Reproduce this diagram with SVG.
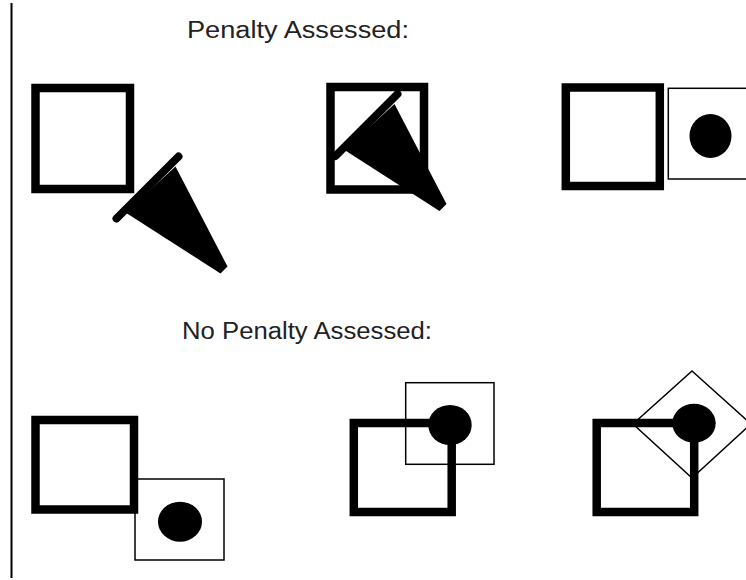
<svg xmlns="http://www.w3.org/2000/svg" width="746" height="580" viewBox="0 0 746 580">
<style>
.thick{fill:none;stroke:#000;stroke-width:8.5}
.thin{fill:none;stroke:#000;stroke-width:1.5}
.dot{fill:#000}
.lbl{font-family:"Liberation Sans",Arial,sans-serif;fill:#222}
</style>
<defs>
<g id="cone">
<line x1="-31" y1="31" x2="31" y2="-31" stroke="#000" stroke-width="8" stroke-linecap="round"/>
<polygon points="-22,25 28,-21 80,79 73,86" fill="#000"/>
</g>
</defs>
<rect width="746" height="580" fill="#fff"/>
<line x1="11.5" y1="3" x2="11.5" y2="578" stroke="#000" stroke-width="2"/>
<text class="lbl" x="187" y="38" font-size="23" textLength="222" lengthAdjust="spacingAndGlyphs">Penalty Assessed:</text>
<text class="lbl" x="182" y="339" font-size="23" textLength="250" lengthAdjust="spacingAndGlyphs">No Penalty Assessed:</text>
<g id="penalty1">
<rect class="thick" x="35.5" y="88" width="94.5" height="101"/>
<use href="#cone" transform="translate(147.5,187.5)"/>
</g>
<g id="penalty2">
<rect class="thick" x="330.5" y="87" width="93.5" height="102.5"/>
<use href="#cone" transform="translate(366.5,125)"/>
</g>
<g id="penalty3">
<rect class="thick" x="565.8" y="87.5" width="94" height="98.5"/>
<rect class="thin" x="668.3" y="88.3" width="82" height="90.7"/>
<ellipse class="dot" cx="710.5" cy="136" rx="21" ry="22"/>
</g>
<g id="nopenalty1">
<rect class="thick" x="35.5" y="420" width="98.5" height="89.5"/>
<rect class="thin" x="135" y="479" width="89" height="81"/>
<ellipse class="dot" cx="180" cy="521.7" rx="22" ry="20"/>
</g>
<g id="nopenalty2">
<rect class="thin" x="405.7" y="382.7" width="88.3" height="81.6"/>
<rect class="thick" x="353.8" y="423" width="97.9" height="89"/>
<ellipse class="dot" cx="450" cy="425" rx="21.7" ry="20"/>
</g>
<g id="nopenalty3">
<polygon class="thin" points="692,371 751,424 692,478 633,424"/>
<rect class="thick" x="596.7" y="423" width="97.5" height="89"/>
<ellipse class="dot" cx="694" cy="423.3" rx="21.7" ry="19.5"/>
</g>
<g id="connectors"/>
</svg>
